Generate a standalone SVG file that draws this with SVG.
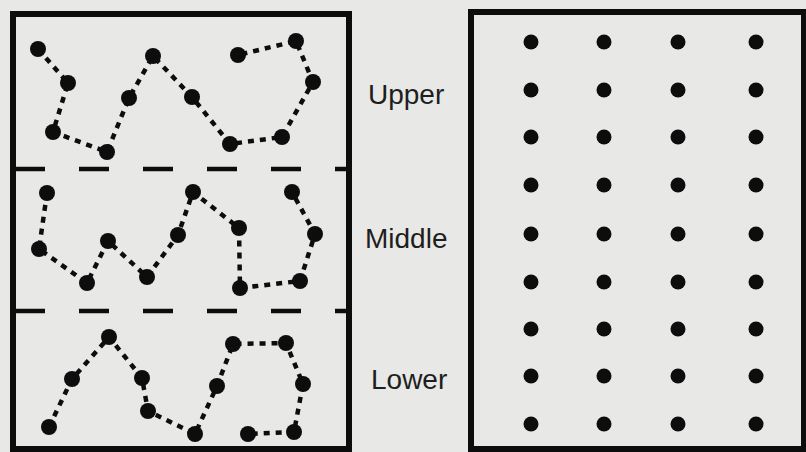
<svg xmlns="http://www.w3.org/2000/svg" width="806" height="452" viewBox="0 0 806 452">
<style>
.frame{fill:none;stroke:#0d0d0d;stroke-width:6}
.sep{stroke:#0d0d0d;stroke-width:4.5;stroke-dasharray:30 34}
.dot{fill:#0d0d0d}
.link{fill:none;stroke:#0d0d0d;stroke-width:4.5;stroke-dasharray:6 6}
.lbl{font-family:"Liberation Sans",Arial,sans-serif;font-size:28px;fill:#1e1e1e}
</style>
<rect x="0" y="0" width="806" height="452" fill="#e8e8e6"/>
<g id="left-panel">
<rect class="frame" x="13" y="14" width="336" height="435"/>
<line class="sep" x1="15" y1="169" x2="347" y2="169"/>
<line class="sep" x1="15" y1="311" x2="347" y2="311"/>
</g>
<g id="connectors">
<polyline class="link" points="38,49 68,83 53,132 107,152 129,98 153,56 192,97 230,144 282,137 313,82 296,41 238,55"/>
<polyline class="link" points="47,193 39,249 87,283 108,241 147,277 178,235 193,192 239,228 240,288 300,281 315,234 292,192"/>
<polyline class="link" points="49,427 72,379 109,337 142,378 148,411 195,434 217,386 233,344 286,343 303,384 294,432 248,434"/>
</g>
<g id="upper-group">
<circle class="dot" cx="38" cy="49" r="8"/><circle class="dot" cx="68" cy="83" r="8"/><circle class="dot" cx="53" cy="132" r="8"/><circle class="dot" cx="107" cy="152" r="8"/><circle class="dot" cx="129" cy="98" r="8"/><circle class="dot" cx="153" cy="56" r="8"/><circle class="dot" cx="192" cy="97" r="8"/><circle class="dot" cx="230" cy="144" r="8"/><circle class="dot" cx="282" cy="137" r="8"/><circle class="dot" cx="313" cy="82" r="8"/><circle class="dot" cx="296" cy="41" r="8"/><circle class="dot" cx="238" cy="55" r="8"/>
</g>
<g id="middle-group">
<circle class="dot" cx="47" cy="193" r="8"/><circle class="dot" cx="39" cy="249" r="8"/><circle class="dot" cx="87" cy="283" r="8"/><circle class="dot" cx="108" cy="241" r="8"/><circle class="dot" cx="147" cy="277" r="8"/><circle class="dot" cx="178" cy="235" r="8"/><circle class="dot" cx="193" cy="192" r="8"/><circle class="dot" cx="239" cy="228" r="8"/><circle class="dot" cx="240" cy="288" r="8"/><circle class="dot" cx="300" cy="281" r="8"/><circle class="dot" cx="315" cy="234" r="8"/><circle class="dot" cx="292" cy="192" r="8"/>
</g>
<g id="lower-group">
<circle class="dot" cx="49" cy="427" r="8"/><circle class="dot" cx="72" cy="379" r="8"/><circle class="dot" cx="109" cy="337" r="8"/><circle class="dot" cx="142" cy="378" r="8"/><circle class="dot" cx="148" cy="411" r="8"/><circle class="dot" cx="195" cy="434" r="8"/><circle class="dot" cx="217" cy="386" r="8"/><circle class="dot" cx="233" cy="344" r="8"/><circle class="dot" cx="286" cy="343" r="8"/><circle class="dot" cx="303" cy="384" r="8"/><circle class="dot" cx="294" cy="432" r="8"/><circle class="dot" cx="248" cy="434" r="8"/>
</g>
<g id="labels">
<text class="lbl" x="368" y="104">Upper</text>
<text class="lbl" x="365" y="248">Middle</text>
<text class="lbl" x="371" y="389">Lower</text>
</g>
<g id="right-panel">
<rect class="frame" x="471" y="12" width="333" height="437"/>
<g fill="#0d0d0d">
<circle cx="531" cy="42" r="7.5"/><circle cx="604" cy="42" r="7.5"/><circle cx="678" cy="42" r="7.5"/><circle cx="756" cy="42" r="7.5"/>
<circle cx="531" cy="90" r="7.5"/><circle cx="604" cy="90" r="7.5"/><circle cx="678" cy="90" r="7.5"/><circle cx="756" cy="90" r="7.5"/>
<circle cx="531" cy="137" r="7.5"/><circle cx="604" cy="137" r="7.5"/><circle cx="678" cy="137" r="7.5"/><circle cx="756" cy="137" r="7.5"/>
<circle cx="531" cy="185" r="7.5"/><circle cx="604" cy="185" r="7.5"/><circle cx="678" cy="185" r="7.5"/><circle cx="756" cy="185" r="7.5"/>
<circle cx="531" cy="234" r="7.5"/><circle cx="604" cy="234" r="7.5"/><circle cx="678" cy="234" r="7.5"/><circle cx="756" cy="234" r="7.5"/>
<circle cx="531" cy="282" r="7.5"/><circle cx="604" cy="282" r="7.5"/><circle cx="678" cy="282" r="7.5"/><circle cx="756" cy="282" r="7.5"/>
<circle cx="531" cy="329" r="7.5"/><circle cx="604" cy="329" r="7.5"/><circle cx="678" cy="329" r="7.5"/><circle cx="756" cy="329" r="7.5"/>
<circle cx="531" cy="376" r="7.5"/><circle cx="604" cy="376" r="7.5"/><circle cx="678" cy="376" r="7.5"/><circle cx="756" cy="376" r="7.5"/>
<circle cx="531" cy="424" r="7.5"/><circle cx="604" cy="424" r="7.5"/><circle cx="678" cy="424" r="7.5"/><circle cx="756" cy="424" r="7.5"/>
</g>
</g>
</svg>
